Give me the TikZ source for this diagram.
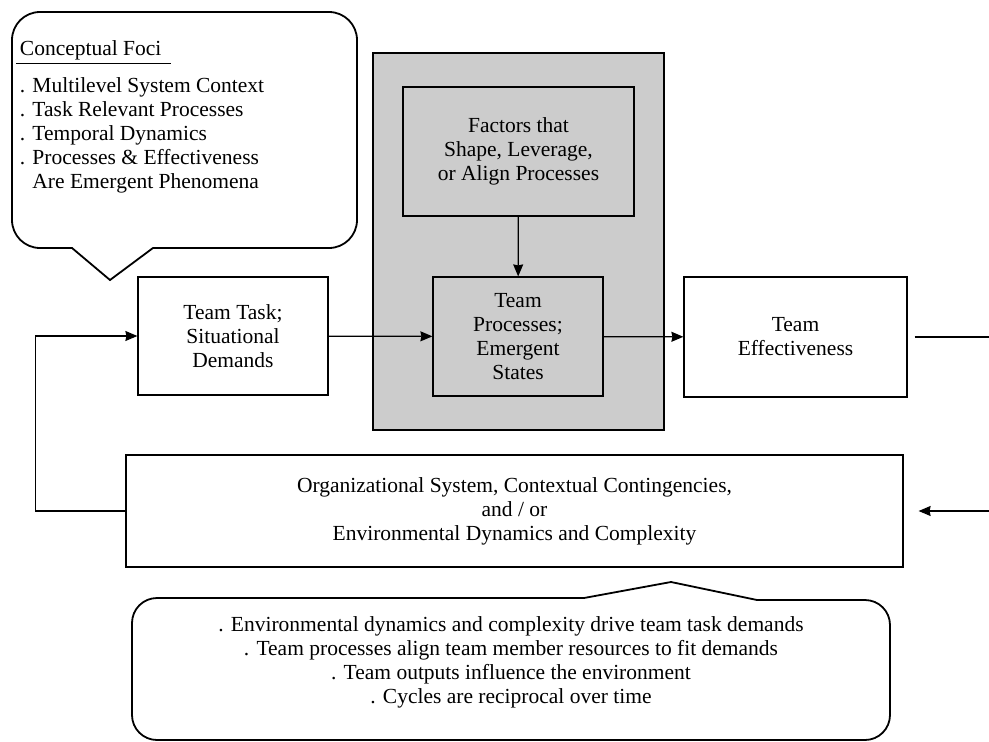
\documentclass[tikz,border=0pt]{standalone}
\usepackage{fontspec}
\setmainfont{Liberation Serif}
\usetikzlibrary{arrows.meta}
\definecolor{framegray}{gray}{0.8}
\tikzset{
  box/.style={draw,line width=1.2pt,align=center,inner sep=2pt},
  bubble/.style={line width=1.8pt},
}
\begin{document}
\begin{tikzpicture}[x=1pt,y=-1pt,>={Stealth[length=12pt,width=10pt,inset=1pt]},line width=1.2pt,
  font=\fontsize{21.5}{24}\selectfont]
\useasboundingbox (0,0) rectangle (989,742);
\node[box,fill=framegray,minimum width=291pt,minimum height=377pt](frame) at (518.5,241.5){};
\node[box,minimum width=231pt,minimum height=129pt](factors) at (518.5,151.5){Factors that\\Shape, Leverage,\\or Align Processes};
\node[box,minimum width=170pt,minimum height=119pt](procs) at (518,336.5){Team\\Processes;\\Emergent\\States};
\node[box,fill=white,minimum width=190pt,minimum height=118pt](task) at (233,336){Team Task;\\Situational\\Demands};
\node[box,fill=white,minimum width=223pt,minimum height=120pt](eff) at (795.5,337){Team\\Effectiveness};
\node[box,fill=white,minimum width=777pt,minimum height=112pt](org) at (514.5,511){Organizational System, Contextual Contingencies,\\and / or\\Environmental Dynamics and Complexity};
\draw[->](factors)--(procs);
\draw[->](task)--(procs);
\draw[->](procs)--(eff);
\draw[->](org.west)--++(-90,0)|-(task.west);
\coordinate (effout) at (989,337);
\draw([xshift=7pt]eff.east)--(effout);
\coordinate (orgin) at (989,511);
\draw[->,shorten >=15pt](orgin)--(org.east);
\draw[bubble](110,280)--(72,248)[rounded corners=28pt]--(12,248)--(12,12)--(357,12)--(357,248)[sharp corners]--(153,248)--cycle;
\node[anchor=west](head) at (16,50){Conceptual Foci};
\draw[line width=0.9pt](head.south west)--([xshift=6pt]head.south east);
\node[anchor=west,align=left](foci) at (16,135.5){. Multilevel System Context\\. Task Relevant Processes\\. Temporal Dynamics\\. Processes \& Effectiveness\\\phantom{. }Are Emergent Phenomena};
\draw[bubble](584,598)--(671,582)--(757,600)[rounded corners=25pt]--(890,600)--(890,740)--(132,740)--(132,598)[sharp corners]--(584,598)--cycle;
\node[align=center](notes) at (511,662.5){. Environmental dynamics and complexity drive team task demands\\. Team processes align team member resources to fit demands\\. Team outputs influence the environment\\. Cycles are reciprocal over time};
\end{tikzpicture}
\end{document}
